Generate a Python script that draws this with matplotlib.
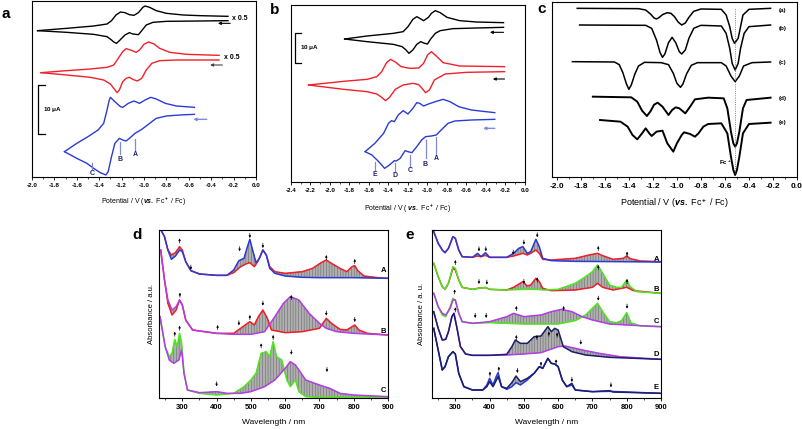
import numpy as np
import matplotlib
matplotlib.use("Agg")
import matplotlib.pyplot as plt
from matplotlib.ticker import MultipleLocator, FuncFormatter

plt.rcParams['font.family'] = ['Liberation Sans', 'DejaVu Sans']
plt.rcParams['font.weight'] = 'bold'
plt.rcParams['axes.unicode_minus'] = False
plt.rcParams['mathtext.fontset'] = 'custom'
plt.rcParams['mathtext.rm'] = 'Liberation Sans:bold'
plt.rcParams['mathtext.it'] = 'Liberation Sans:italic:bold'
plt.rcParams['mathtext.bf'] = 'Liberation Sans:bold'

# ---------- panel a : cyclic voltammograms (potential V, current a.u.)
a_black_up = [(-1.95, 5.08), (-1.69, 5.15), (-1.45, 5.22), (-1.33, 5.28), (-1.29, 5.38), (-1.25, 5.55),
              (-1.21, 5.64), (-1.17, 5.62), (-1.13, 5.56), (-1.09, 5.54), (-1.05, 5.62), (-1.01, 5.78),
              (-0.99, 5.82), (-0.95, 5.78), (-0.89, 5.68), (-0.80, 5.60), (-0.65, 5.55), (-0.50, 5.53), (-0.25, 5.51)]
a_black_dn = [(-1.95, 5.08), (-1.69, 5.03), (-1.45, 4.97), (-1.33, 4.90), (-1.29, 4.80), (-1.27, 4.74),
              (-1.245, 4.70), (-1.22, 4.78), (-1.17, 4.95), (-1.13, 5.02), (-1.10, 4.98), (-1.05, 4.96),
              (-1.02, 5.08), (-0.98, 5.25), (-0.92, 5.33), (-0.80, 5.36), (-0.50, 5.37), (-0.25, 5.38)]
a_red_up = [(-1.92, 3.82), (-1.69, 3.88), (-1.48, 3.93), (-1.33, 3.98), (-1.27, 4.05), (-1.23, 4.25),
            (-1.19, 4.45), (-1.16, 4.54), (-1.12, 4.50), (-1.07, 4.43), (-1.04, 4.50), (-1.00, 4.67),
            (-0.96, 4.74), (-0.91, 4.68), (-0.86, 4.55), (-0.77, 4.43), (-0.62, 4.37), (-0.33, 4.34)]
a_red_dn = [(-1.92, 3.82), (-1.69, 3.75), (-1.48, 3.68), (-1.36, 3.60), (-1.30, 3.48), (-1.27, 3.35),
            (-1.24, 3.22), (-1.22, 3.30), (-1.19, 3.55), (-1.16, 3.65), (-1.13, 3.68), (-1.10, 3.62),
            (-1.06, 3.57), (-1.02, 3.65), (-0.98, 3.90), (-0.93, 4.10), (-0.86, 4.18), (-0.71, 4.20), (-0.33, 4.20)]
a_blue_up = [(-1.71, 1.45), (-1.60, 1.70), (-1.50, 1.90), (-1.41, 2.10), (-1.36, 2.30), (-1.33, 2.70),
             (-1.31, 3.00), (-1.30, 3.08), (-1.26, 2.95), (-1.21, 2.80), (-1.19, 2.78), (-1.14, 2.90),
             (-1.09, 2.97), (-1.04, 2.90), (-0.99, 3.00), (-0.94, 3.08), (-0.89, 3.03), (-0.81, 2.90),
             (-0.71, 2.82), (-0.55, 2.78)]
a_blue_dn = [(-1.71, 1.45), (-1.60, 1.25), (-1.51, 1.10), (-1.45, 0.95), (-1.39, 0.82), (-1.34, 0.75),
             (-1.32, 0.85), (-1.29, 1.30), (-1.26, 1.70), (-1.22, 1.85), (-1.19, 1.80), (-1.16, 1.77),
             (-1.13, 1.85), (-1.08, 2.00), (-1.02, 2.12), (-0.98, 2.22), (-0.93, 2.35), (-0.89, 2.45),
             (-0.80, 2.52), (-0.68, 2.55), (-0.55, 2.57)]
a_marks = [('C', -1.46, 1.10, 0.92, 0.80), ('B', -1.21, 1.75, 1.38, 1.22), ('A', -1.08, 1.82, 1.50, 1.38)]

# ---------- panel b
b_black_up = [(-1.85, 4.83), (-1.62, 4.92), (-1.35, 5.00), (-1.25, 5.05), (-1.20, 5.20), (-1.15, 5.42),
              (-1.11, 5.50), (-1.08, 5.45), (-1.04, 5.38), (-0.99, 5.48), (-0.96, 5.60), (-0.92, 5.68),
              (-0.87, 5.62), (-0.80, 5.48), (-0.67, 5.38), (-0.50, 5.34), (-0.22, 5.32)]
b_black_dn = [(-1.85, 4.83), (-1.62, 4.75), (-1.35, 4.67), (-1.26, 4.60), (-1.22, 4.50), (-1.19, 4.40),
              (-1.15, 4.50), (-1.11, 4.67), (-1.07, 4.75), (-1.03, 4.70), (-1.00, 4.68), (-0.97, 4.82),
              (-0.92, 5.00), (-0.87, 5.08), (-0.74, 5.14), (-0.50, 5.16), (-0.22, 5.18)]
b_red_up = [(-2.22, 3.45), (-1.86, 3.56), (-1.62, 3.62), (-1.52, 3.70), (-1.47, 3.85), (-1.42, 4.12),
            (-1.38, 4.22), (-1.33, 4.14), (-1.27, 4.00), (-1.18, 3.95), (-1.09, 3.96), (-1.04, 4.10),
            (-1.00, 4.35), (-0.96, 4.45), (-0.91, 4.32), (-0.84, 4.12), (-0.67, 4.02), (-0.21, 4.00)]
b_red_dn = [(-2.22, 3.45), (-1.86, 3.32), (-1.62, 3.25), (-1.52, 3.18), (-1.47, 3.08), (-1.43, 2.98),
            (-1.39, 3.08), (-1.33, 3.32), (-1.25, 3.45), (-1.15, 3.50), (-1.09, 3.46), (-1.05, 3.33),
            (-1.02, 3.22), (-0.98, 3.30), (-0.93, 3.60), (-0.82, 3.78), (-0.60, 3.83), (-0.21, 3.85)]
b_blue_up = [(-1.64, 1.45), (-1.54, 1.70), (-1.45, 2.00), (-1.40, 2.30), (-1.37, 2.38), (-1.34, 2.35),
             (-1.30, 2.55), (-1.25, 2.68), (-1.20, 2.58), (-1.15, 2.75), (-1.11, 2.92), (-1.08, 2.90),
             (-1.04, 2.82), (-0.99, 2.88), (-0.92, 2.95), (-0.84, 3.02), (-0.77, 2.95), (-0.68, 2.80),
             (-0.55, 2.70), (-0.31, 2.62)]
b_blue_dn = [(-1.64, 1.45), (-1.57, 1.35), (-1.50, 1.15), (-1.44, 0.95), (-1.39, 1.05), (-1.34, 1.18),
             (-1.32, 1.17), (-1.28, 1.25), (-1.23, 1.48), (-1.20, 1.45), (-1.16, 1.42), (-1.11, 1.60),
             (-1.06, 1.80), (-1.02, 1.90), (-0.96, 1.92), (-0.91, 1.95), (-0.86, 2.10), (-0.79, 2.30),
             (-0.72, 2.37), (-0.55, 2.40), (-0.31, 2.42)]
b_marks = [('E', -1.54, 1.15, 0.90, 0.77), ('D', -1.33, 1.10, 0.85, 0.73), ('C', -1.18, 1.35, 1.00, 0.88),
           ('B', -1.02, 1.80, 1.25, 1.08), ('A', -0.91, 1.90, 1.35, 1.23)]

# ---------- panel c : differential pulse voltammograms
c_a = [(-1.83, 5.75), (-1.32, 5.74), (-1.26, 5.70), (-1.22, 5.58), (-1.19, 5.46), (-1.17, 5.43), (-1.15, 5.47),
       (-1.12, 5.56), (-1.08, 5.62), (-1.05, 5.60), (-1.02, 5.50), (-0.99, 5.34), (-0.96, 5.25), (-0.93, 5.31),
       (-0.90, 5.48), (-0.86, 5.66), (-0.80, 5.73), (-0.63, 5.72), (-0.59, 5.55), (-0.56, 5.20), (-0.54, 4.85),
       (-0.52, 4.70), (-0.49, 4.85), (-0.47, 5.20), (-0.45, 5.55), (-0.40, 5.72), (-0.22, 5.75)]
c_b = [(-1.81, 5.25), (-1.26, 5.24), (-1.21, 5.15), (-1.17, 4.80), (-1.14, 4.42), (-1.12, 4.28), (-1.10, 4.38),
       (-1.07, 4.72), (-1.04, 4.88), (-1.01, 4.72), (-0.98, 4.45), (-0.96, 4.38), (-0.93, 4.50), (-0.90, 4.85),
       (-0.86, 5.15), (-0.80, 5.24), (-0.63, 5.22), (-0.59, 5.00), (-0.56, 4.55), (-0.54, 4.10), (-0.515, 3.90),
       (-0.49, 4.10), (-0.47, 4.55), (-0.44, 5.00), (-0.40, 5.20), (-0.22, 5.25)]
c_c = [(-1.87, 4.15), (-1.52, 4.14), (-1.48, 4.06), (-1.45, 3.82), (-1.42, 3.48), (-1.40, 3.32), (-1.38, 3.45),
       (-1.35, 3.78), (-1.32, 4.02), (-1.27, 4.13), (-1.13, 4.12), (-1.07, 4.06), (-1.03, 3.80), (-1.00, 3.50),
       (-0.97, 3.38), (-0.95, 3.48), (-0.92, 3.78), (-0.88, 4.04), (-0.83, 4.12), (-0.63, 4.12), (-0.59, 4.02),
       (-0.55, 3.72), (-0.515, 3.55), (-0.48, 3.72), (-0.445, 4.02), (-0.375, 4.12), (-0.22, 4.14)]
c_d = [(-1.70, 3.10), (-1.38, 3.08), (-1.33, 2.95), (-1.29, 2.68), (-1.25, 2.52), (-1.22, 2.66), (-1.19, 2.86),
       (-1.16, 2.92), (-1.12, 2.80), (-1.07, 2.55), (-1.04, 2.70), (-1.01, 2.78), (-0.98, 2.75), (-0.93, 2.60),
       (-0.89, 2.80), (-0.85, 3.02), (-0.74, 3.07), (-0.61, 3.05), (-0.58, 2.75), (-0.55, 2.05), (-0.53, 1.70),
       (-0.515, 1.60), (-0.50, 1.70), (-0.48, 2.05), (-0.45, 2.75), (-0.42, 3.00), (-0.22, 3.07)]
c_e = [(-1.64, 2.40), (-1.47, 2.35), (-1.41, 2.20), (-1.37, 1.95), (-1.33, 1.82), (-1.29, 2.00), (-1.26, 2.15),
       (-1.23, 2.00), (-1.21, 1.92), (-1.17, 2.05), (-1.12, 2.08), (-1.08, 1.70), (-1.03, 1.45), (-1.00, 1.70),
       (-0.96, 1.95), (-0.94, 2.03), (-0.89, 1.98), (-0.85, 1.90), (-0.82, 2.00), (-0.78, 2.20), (-0.74, 2.28),
       (-0.63, 2.30), (-0.58, 2.00), (-0.55, 1.30), (-0.53, 0.90), (-0.515, 0.75), (-0.50, 0.90), (-0.48, 1.30),
       (-0.45, 2.00), (-0.40, 2.28), (-0.22, 2.32)]
c_tags = ['(a)', '(b)', '(c)', '(d)', '(e)']
c_tag_y = [5.68, 5.15, 4.12, 3.04, 2.32]

# ---------- panel d : spectroelectrochemistry (nm, absorbance a.u.)
d_A_red = [(235, 5.15), (248, 4.90), (258, 4.50), (268, 4.35), (280, 4.42), (292, 4.60), (300, 4.50), (310, 4.15),
           (325, 3.88), (350, 3.78), (400, 3.74), (430, 3.74), (450, 3.82), (470, 4.00), (485, 4.08), (497, 4.12),
           (510, 4.00), (520, 4.15), (535, 4.50), (545, 4.35), (555, 4.00), (570, 3.85), (600, 3.80), (650, 3.85),
           (680, 3.95), (705, 4.12), (720, 4.20), (735, 4.10), (760, 3.95), (780, 3.85), (795, 4.00), (803, 4.03),
           (812, 3.88), (830, 3.72), (870, 3.67), (900, 3.65)]
d_A_blue = [(235, 5.15), (248, 4.90), (258, 4.50), (268, 4.22), (280, 4.32), (292, 4.50), (300, 4.45), (310, 4.15),
            (325, 3.88), (350, 3.78), (400, 3.74), (430, 3.74), (450, 3.90), (465, 4.18), (480, 4.25), (490, 4.60),
            (497, 4.82), (505, 4.50), (515, 4.12), (525, 4.25), (535, 4.50), (545, 4.35), (555, 3.95), (570, 3.80),
            (600, 3.72), (650, 3.68), (700, 3.67), (800, 3.67), (900, 3.65)]
d_B_red = [(237, 4.50), (248, 3.60), (258, 2.90), (270, 2.55), (282, 2.70), (292, 3.00), (300, 2.85), (310, 2.40),
           (330, 2.10), (400, 2.00), (450, 2.00), (470, 2.15), (497, 2.35), (510, 2.25), (522, 2.50), (535, 2.70),
           (548, 2.45), (560, 2.10), (600, 2.02), (650, 2.05), (700, 2.15), (720, 2.45), (735, 2.30), (760, 2.12),
           (780, 2.10), (803, 2.25), (815, 2.10), (840, 2.00), (900, 1.95)]
d_B_mag = [(237, 4.50), (248, 3.60), (258, 3.00), (270, 2.70), (282, 2.80), (292, 3.00), (300, 2.85), (310, 2.40),
           (330, 2.10), (400, 2.00), (450, 1.97), (500, 1.97), (540, 2.05), (570, 2.50), (595, 2.90), (615, 3.10),
           (640, 3.00), (670, 2.60), (700, 2.30), (720, 2.15), (750, 2.05), (800, 2.00), (900, 1.95)]
d_C_green = [(235, 2.50), (250, 1.60), (262, 1.30), (270, 1.40), (278, 1.82), (285, 1.60), (292, 2.00), (298, 1.70),
             (305, 0.80), (315, 0.30), (350, 0.20), (400, 0.15), (450, 0.20), (480, 0.40), (500, 0.60), (515, 0.80),
             (530, 1.40), (545, 1.45), (555, 1.30), (565, 1.75), (575, 1.30), (590, 1.20), (605, 0.60), (615, 0.40),
             (630, 0.60), (640, 0.25), (660, 0.10), (700, 0.08), (900, 0.08)]
d_C_mag = [(235, 2.50), (250, 1.60), (262, 1.20), (275, 1.10), (290, 1.20), (298, 1.50), (305, 0.80), (315, 0.30),
           (350, 0.22), (400, 0.25), (430, 0.20), (470, 0.20), (500, 0.25), (540, 0.40), (570, 0.60), (600, 0.95),
           (615, 1.15), (630, 1.05), (660, 0.60), (700, 0.45), (730, 0.35), (760, 0.20), (800, 0.15), (900, 0.10)]
d_arrows = [(292, 4.85, 'u'), (325, 4.05, 'd'), (467, 4.60, 'd'), (497, 5.00, 'd'), (535, 4.70, 'd'),
            (720, 4.35, 'u'), (803, 4.23, 'u'),
            (293, 3.22, 'u'), (403, 2.25, 'u'), (465, 2.38, 'd'), (497, 2.55, 'u'), (535, 2.97, 'd'),
            (618, 3.15, 'u'), (720, 2.67, 'd'), (803, 2.48, 'd'),
            (278, 2.05, 'u'), (292, 2.23, 'u'), (400, 0.55, 'd'), (530, 1.70, 'u'), (565, 1.95, 'u'),
            (618, 1.50, 'd'), (722, 0.98, 'd')]
d_tags = [('A', 3.90), ('B', 2.05), ('C', 0.28)]

# ---------- panel e
e_A_blue = [(237, 5.05), (250, 4.70), (262, 4.50), (270, 4.42), (280, 4.55), (293, 4.90), (300, 4.85), (310, 4.50),
            (320, 4.30), (350, 4.28), (365, 4.40), (375, 4.30), (388, 4.42), (400, 4.28), (450, 4.28), (470, 4.40),
            (485, 4.55), (497, 4.60), (510, 4.40), (520, 4.45), (535, 4.82), (545, 4.60), (555, 4.25), (580, 4.18),
            (650, 4.16), (900, 4.14)]
e_A_red = [(237, 5.05), (250, 4.70), (262, 4.50), (270, 4.42), (280, 4.55), (293, 4.90), (300, 4.85), (310, 4.50),
           (320, 4.30), (350, 4.28), (365, 4.32), (375, 4.30), (388, 4.34), (400, 4.28), (450, 4.28), (470, 4.32),
           (497, 4.40), (510, 4.35), (520, 4.40), (535, 4.50), (545, 4.40), (555, 4.22), (580, 4.20), (650, 4.25),
           (690, 4.35), (715, 4.40), (730, 4.33), (760, 4.22), (790, 4.25), (800, 4.32), (810, 4.24), (840, 4.17),
           (900, 4.15)]
e_B_green = [(237, 4.10), (250, 3.70), (262, 3.40), (270, 3.32), (280, 3.50), (293, 4.00), (300, 3.95), (310, 3.60),
             (320, 3.38), (350, 3.32), (370, 3.35), (388, 3.38), (400, 3.32), (450, 3.30), (500, 3.32), (535, 3.32),
             (560, 3.30), (600, 3.32), (650, 3.50), (680, 3.70), (700, 3.85), (715, 4.05), (730, 3.80), (750, 3.45),
             (770, 3.38), (785, 3.38), (800, 3.60), (810, 3.40), (830, 3.25), (900, 3.20)]
e_B_red = [(237, 4.10), (250, 3.70), (262, 3.40), (270, 3.32), (280, 3.50), (293, 3.95), (300, 3.90), (310, 3.60),
           (320, 3.38), (350, 3.32), (370, 3.36), (388, 3.37), (400, 3.32), (450, 3.30), (470, 3.38), (497, 3.55),
           (510, 3.42), (520, 3.45), (535, 3.65), (545, 3.55), (555, 3.35), (580, 3.28), (650, 3.30), (700, 3.38),
           (715, 3.50), (730, 3.38), (760, 3.30), (800, 3.38), (820, 3.28), (900, 3.20)]
e_C_green = [(237, 3.20), (250, 2.80), (262, 2.55), (272, 2.50), (285, 2.80), (293, 3.05), (300, 3.00), (310, 2.60),
             (320, 2.35), (350, 2.30), (400, 2.32), (450, 2.30), (500, 2.28), (600, 2.28), (650, 2.38), (680, 2.55),
             (700, 2.75), (715, 2.90), (730, 2.65), (750, 2.35), (770, 2.32), (785, 2.38), (800, 2.62), (812, 2.32),
             (840, 2.22), (900, 2.20)]
e_C_mag = [(237, 3.20), (250, 2.80), (262, 2.60), (272, 2.55), (285, 2.75), (293, 3.00), (300, 3.00), (310, 2.60),
           (320, 2.35), (350, 2.30), (400, 2.35), (450, 2.50), (470, 2.60), (500, 2.50), (550, 2.55), (580, 2.65),
           (610, 2.72), (640, 2.65), (670, 2.50), (700, 2.40), (750, 2.28), (800, 2.25), (900, 2.20)]
e_D_navy = [(237, 2.65), (250, 2.15), (262, 1.80), (272, 1.82), (280, 2.05), (290, 2.50), (296, 2.60), (305, 2.15),
            (315, 1.60), (330, 1.38), (350, 1.34), (400, 1.34), (450, 1.37), (465, 1.60), (475, 1.80), (490, 1.70),
            (510, 1.70), (530, 1.90), (550, 1.92), (570, 2.20), (580, 2.05), (590, 2.15), (600, 2.10), (615, 1.60),
            (640, 1.45), (680, 1.35), (750, 1.28), (900, 1.22)]
e_D_mag = [(237, 2.65), (250, 2.15), (262, 1.80), (272, 1.82), (280, 2.05), (290, 2.50), (296, 2.60), (305, 2.15),
           (315, 1.60), (330, 1.38), (350, 1.34), (400, 1.34), (450, 1.35), (500, 1.38), (550, 1.42), (600, 1.60),
           (620, 1.62), (650, 1.55), (680, 1.48), (720, 1.40), (780, 1.30), (900, 1.22)]
e_E_navy = [(237, 2.15), (250, 1.50), (262, 0.90), (270, 1.00), (280, 1.30), (293, 1.45), (300, 1.38), (310, 0.80),
            (325, 0.40), (350, 0.30), (380, 0.30), (392, 0.40), (400, 0.55), (410, 0.40), (420, 0.60), (425, 0.70),
            (435, 0.40), (450, 0.35), (465, 0.52), (477, 0.72), (490, 0.55), (510, 0.65), (530, 0.80), (545, 1.00),
            (555, 0.95), (570, 1.25), (580, 1.10), (590, 1.08), (600, 1.00), (612, 0.60), (625, 0.40), (640, 0.50),
            (650, 0.30), (700, 0.25), (750, 0.28), (760, 0.24), (900, 0.20)]
e_E_blue = [(237, 2.15), (250, 1.50), (262, 0.90), (270, 1.00), (280, 1.30), (293, 1.45), (300, 1.38), (310, 0.80),
            (325, 0.40), (350, 0.30), (380, 0.30), (392, 0.45), (400, 0.65), (410, 0.45), (420, 0.72), (425, 0.82),
            (435, 0.40), (450, 0.32), (465, 0.40), (477, 0.52), (490, 0.45), (510, 0.60), (530, 0.80), (545, 1.00),
            (555, 0.95), (570, 1.25), (580, 1.10), (590, 1.08), (600, 1.00), (612, 0.60), (625, 0.40), (640, 0.45),
            (650, 0.30), (700, 0.25), (750, 0.26), (900, 0.20)]
e_arrows = [(369, 4.60, 'd'), (389, 4.60, 'd'), (469, 4.50, 'd'), (500, 4.80, 'd'), (539, 5.02, 'd'),
            (717, 4.62, 'u'), (801, 4.45, 'u'),
            (300, 4.20, 'u'), (369, 3.62, 'd'), (392, 3.60, 'd'), (500, 3.62, 'd'), (539, 3.68, 'u'),
            (717, 4.05, 'u'), (801, 3.63, 'u'),
            (298, 3.32, 'u'), (358, 2.60, 'd'), (390, 2.60, 'd'), (478, 2.82, 'u'), (616, 2.82, 'u'),
            (717, 3.12, 'd'), (801, 2.88, 'd'),
            (300, 2.78, 'u'), (478, 1.95, 'u'), (538, 1.95, 'u'), (573, 2.05, 'u'), (597, 2.02, 'u'), (666, 1.80, 'd'),
            (401, 0.85, 'u'), (427, 1.00, 'u'), (481, 0.95, 'd'), (550, 1.15, 'u'), (594, 1.22, 'u'),
            (640, 0.68, 'd'), (754, 0.52, 'd')]
e_tags = [('A', 4.22), ('B', 3.32), ('C', 2.35), ('D', 1.38), ('E', 0.38)]

RED = '#f0202a'
BLUE = '#2a3bd6'
LBLUE = '#7f88dd'
MAG = '#b43ee6'
GREEN = '#4ce81c'
NAVY = '#1c1f6e'
GREY = '#6e6e6e'


def xy(pts):
    arr = np.array(pts, dtype=float)
    return arr[:, 0], arr[:, 1]


def line(ax, pts, color, lw=1.0):
    x, y = xy(pts)
    ax.plot(x, y, color=color, lw=lw, solid_joinstyle='round')


def family(ax, start, end, c1, c2):
    # the grey bundle of intermediate spectra lies between the first and the last one
    x1, y1 = xy(start)
    x2, y2 = xy(end)
    ax.fill(np.r_[x1, x2[::-1]], np.r_[y1, y2[::-1]], facecolor=GREY, alpha=0.55,
            edgecolor='#333333', lw=0.4, hatch='||||||')
    ax.plot(x1, y1, color=c1, lw=1.1)
    ax.plot(x2, y2, color=c2, lw=1.1)


def arrow(ax, x0, x1, y, color, lw=0.8):
    ax.annotate('', xy=(x1, y), xytext=(x0, y),
                arrowprops=dict(arrowstyle='-|>', color=color, lw=lw, mutation_scale=4, shrinkA=0, shrinkB=0))


def ticks_arrows(ax, arrows, length=0.14):
    for x, top, d in arrows:
        a, b = (top, top - length) if d == 'd' else (top - length, top)
        ax.annotate('', xy=(x, b), xytext=(x, a),
                    arrowprops=dict(arrowstyle='-|>', color='black', lw=0.5, mutation_scale=3,
                                    shrinkA=0, shrinkB=0))


def scale_bar(ax, x, y0, y1, dx, label):
    ax.plot([x + dx, x, x, x + dx], [y0, y0, y1, y1], color='black', lw=0.9)
    ax.text(x + dx * 0.8, (y0 + y1) / 2, label, fontsize=4.5, va='center', ha='left')


def style(ax, xlim, ylim, major, minor, fs, fmt):
    ax.set_xlim(*xlim)
    ax.set_ylim(*ylim)
    ax.set_yticks([])
    ax.xaxis.set_major_locator(MultipleLocator(major))
    ax.xaxis.set_minor_locator(MultipleLocator(minor))
    ax.xaxis.set_major_formatter(FuncFormatter(fmt))
    ax.tick_params(axis='x', which='major', direction='out', length=2.5, width=0.6, labelsize=fs, pad=1.5)
    ax.tick_params(axis='x', which='minor', direction='out', length=1.5, width=0.5)
    for s in ax.spines.values():
        s.set_linewidth(0.8)


plt.rcParams['hatch.color'] = '#3a3a3a'
plt.rcParams['hatch.linewidth'] = 0.4
volt = lambda v, p: f"{round(v, 1) + 0.0:.1f}"
nm = lambda v, p: f"{v:.0f}"
W, H = 803, 429
fig = plt.figure(figsize=(W / 100, H / 100), dpi=100)


def box(l, t, r, b):
    return fig.add_axes([l / W, 1 - b / H, (r - l) / W, (b - t) / H])


pot_label = r"Potential / V ($\it{vs.}$ Fc$^+$ / Fc)"

# panel a
ax = box(32, 1, 256, 177)
style(ax, (-2.0, 0.0), (0.69, 5.97), 0.2, 0.1, 4.5, volt)
for up, dn, col in [(a_black_up, a_black_dn, 'black'), (a_red_up, a_red_dn, RED), (a_blue_up, a_blue_dn, BLUE)]:
    line(ax, up, col)
    line(ax, dn, col)
for tag, x, y0, y1, yt in a_marks:
    ax.plot([x, x], [y0, y1], color=LBLUE, lw=0.9)
    ax.text(x, yt, tag, fontsize=5, ha='center', va='center', color='#22226a')
scale_bar(ax, -1.946, 1.98, 3.46, 0.06, r"10 $\mathbf{\mu}$A")
ax.text(-0.21, 5.45, 'x 0.5', fontsize=5, va='center')
ax.text(-0.29, 4.28, 'x 0.5', fontsize=5, va='center')
arrow(ax, -0.23, -0.34, 5.30, 'black')
arrow(ax, -0.30, -0.41, 4.05, '#444444')
arrow(ax, -0.44, -0.56, 2.42, LBLUE, lw=1.0)
ax.set_xlabel(pot_label, fontsize=5, labelpad=6)

# panel b
ax = box(291, 5, 525, 182)
style(ax, (-2.4, 0.0), (0.54, 5.85), 0.2, 0.1, 4.5, volt)
for up, dn, col in [(b_black_up, b_black_dn, 'black'), (b_red_up, b_red_dn, RED), (b_blue_up, b_blue_dn, BLUE)]:
    line(ax, up, col)
    line(ax, dn, col)
for tag, x, y0, y1, yt in b_marks:
    ax.plot([x, x], [y0, y1], color=LBLUE, lw=0.9)
    ax.text(x, yt, tag, fontsize=5, ha='center', va='center', color='#22226a')
scale_bar(ax, -2.36, 4.12, 5.02, 0.06, r"10 $\mathbf{\mu}$A")
arrow(ax, -0.22, -0.36, 5.03, 'black')
arrow(ax, -0.21, -0.33, 3.63, 'black')
arrow(ax, -0.31, -0.43, 2.15, LBLUE, lw=1.0)
ax.set_xlabel(r"Potential / V ( $\it{vs.}$ Fc$^+$ / Fc)", fontsize=5, labelpad=7)

# panel c
ax = box(552, 2, 797, 177)
style(ax, (-2.04, 0.0), (0.69, 5.94), 0.2, 0.1, 6, volt)
for pts, lw in [(c_a, 1.1), (c_b, 1.1), (c_c, 1.1), (c_d, 1.4), (c_e, 1.4)]:
    line(ax, pts, 'black', lw)
for tag, y in zip(c_tags, c_tag_y):
    ax.text(-0.15, y, tag, fontsize=4.5, va='center', ha='left')
ax.plot([-0.515, -0.515], [0.80, 5.75], color='#555555', lw=0.6, ls=':')
ax.text(-0.545, 1.10, r"Fc$^+$", fontsize=4.5, ha='right', va='center')
ax.set_xlabel(pot_label, fontsize=6.5, labelpad=5)

# panel d
ax = box(159, 230, 388, 398)
style(ax, (232, 900), (0.06, 5.10), 100, 50, 5.5, nm)
family(ax, d_A_red, d_A_blue, RED, BLUE)
family(ax, d_B_red, d_B_mag, RED, MAG)
family(ax, d_C_green, d_C_mag, GREEN, MAG)
ticks_arrows(ax, d_arrows)
for tag, y in d_tags:
    ax.text(886, y, tag, fontsize=5.5, ha='center', va='center')
ax.set_xlabel('Wavelength / nm', fontsize=6, labelpad=6)
ax.set_ylabel('Absorbance / a.u.', fontsize=5.5, labelpad=3)

# panel e
ax = box(432, 230, 661, 398)
style(ax, (232, 900), (0.06, 5.10), 100, 50, 5.5, nm)
family(ax, e_A_red, e_A_blue, RED, BLUE)
family(ax, e_B_red, e_B_green, RED, GREEN)
family(ax, e_C_green, e_C_mag, GREEN, MAG)
family(ax, e_D_mag, e_D_navy, MAG, NAVY)
family(ax, e_E_blue, e_E_navy, BLUE, NAVY)
ticks_arrows(ax, e_arrows)
for tag, y in e_tags:
    ax.text(886, y, tag, fontsize=5.5, ha='center', va='center')
ax.set_xlabel('Wavelength / nm', fontsize=6, labelpad=6)
ax.set_ylabel('Absorbance / a. u.', fontsize=5.5, labelpad=5)

for letter, px, py in [('a', 6, 14), ('b', 275, 10), ('c', 542, 9), ('d', 137, 235), ('e', 410, 235)]:
    fig.text(px / W, 1 - py / H, letter, fontsize=11, fontweight='bold', ha='center', va='center')

fig.savefig('out.png', dpi=100)
